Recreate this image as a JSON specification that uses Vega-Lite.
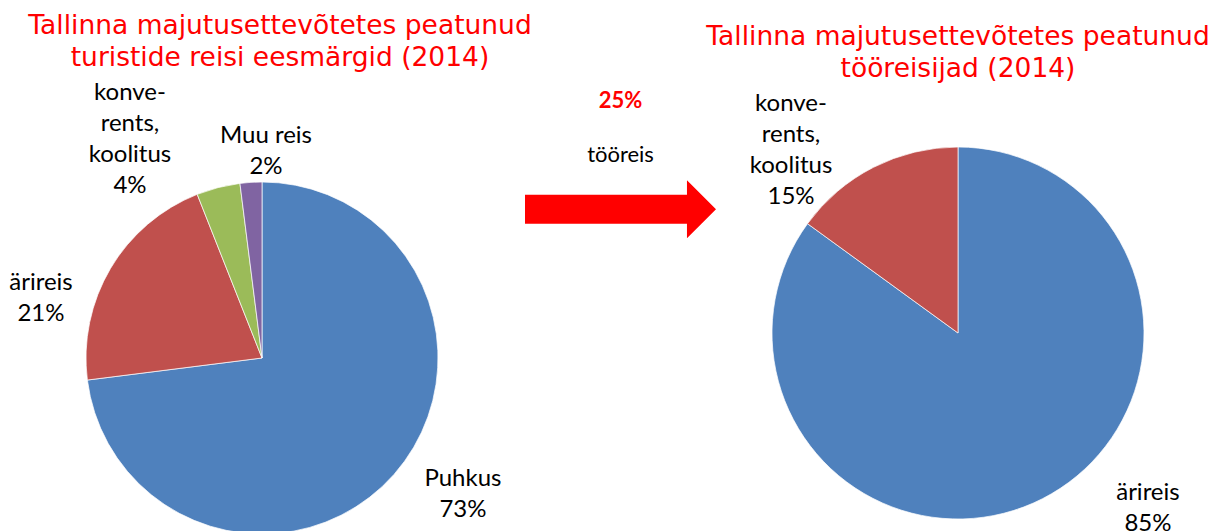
{
  "$schema": "https://vega.github.io/schema/vega-lite/v6.json",
  "padding": {"top": 12, "left": 0, "right": 0, "bottom": 0},
  "spacing": 0,
  "bounds": "flush",
  "background": "#ffffff",
  "resolve": {"scale": {"color": "independent", "theta": "independent", "y": "independent"}},
  "config": {
    "view": {"stroke": null},
    "title": {"font": "DejaVu Sans", "fontSize": 26.5, "fontWeight": "normal", "color": "#FF0000", "lineHeight": 32, "anchor": "middle", "frame": "group", "offset": -4},
    "text": {"font": "Lato", "fontSize": 24, "lineHeight": 31, "align": "center", "baseline": "middle", "color": "#000000", "lineBreak": "\n"}
  },
  "hconcat": [
    {
      "width": 524,
      "height": 582,
      "title": {"text": ["Tallinna majutusettevõtetes peatunud", "turistide reisi eesmärgid (2014)"], "dx": 18},
      "data": {"values": [
        {"cat": "Puhkus", "share": 73, "label": "Puhkus\n73%"},
        {"cat": "ärireis", "share": 21, "label": "ärireis\n21%"},
        {"cat": "konverents, koolitus", "share": 4, "label": "konve-\nrents,\nkoolitus\n4%"},
        {"cat": "Muu reis", "share": 2, "label": "Muu reis\n2%"}
      ]},
      "layer": [
        {"mark": {"type": "arc", "outerRadius": 176, "stroke": "#ffffff", "strokeWidth": 0.7},
         "encoding": {
           "theta": {"field": "share", "type": "quantitative", "stack": true},
           "order": {"field": "share", "type": "quantitative", "sort": "descending"},
           "color": {"field": "cat", "type": "nominal", "legend": null,
             "scale": {"domain": ["Puhkus", "ärireis", "konverents, koolitus", "Muu reis"], "range": ["#4F81BD", "#C0504D", "#9BBB59", "#8064A2"]}}}},
        {"transform": [{"stack": "share", "groupby": [], "sort": [{"field": "share", "order": "descending"}], "as": ["v0", "v1"]}, {"filter": "datum.cat === 'Puhkus'"}],
         "mark": {"type": "text", "radius": 234.6, "thetaOffset": 2.113},
         "encoding": {"theta": {"field": "v0", "type": "quantitative", "stack": null}, "text": {"field": "label", "type": "nominal"}}},
        {"transform": [{"stack": "share", "groupby": [], "sort": [{"field": "share", "order": "descending"}], "as": ["v0", "v1"]}, {"filter": "datum.cat === 'ärireis'"}],
         "mark": {"type": "text", "radius": 233.4, "thetaOffset": 0.4528},
         "encoding": {"theta": {"field": "v0", "type": "quantitative", "stack": null}, "text": {"field": "label", "type": "nominal"}}},
        {"transform": [{"stack": "share", "groupby": [], "sort": [{"field": "share", "order": "descending"}], "as": ["v0", "v1"]}, {"filter": "datum.cat === 'konverents, koolitus'"}],
         "mark": {"type": "text", "radius": 296.1, "thetaOffset": -0.0852},
         "encoding": {"theta": {"field": "v0", "type": "quantitative", "stack": null}, "text": {"field": "label", "type": "nominal"}}},
        {"transform": [{"stack": "share", "groupby": [], "sort": [{"field": "share", "order": "descending"}], "as": ["v0", "v1"]}, {"filter": "datum.cat === 'Muu reis'"}],
         "mark": {"type": "text", "radius": 222, "thetaOffset": 0.1435},
         "encoding": {"theta": {"field": "v0", "type": "quantitative", "stack": null}, "text": {"field": "label", "type": "nominal"}}}
      ]
    },
    {
      "width": 193,
      "height": 176,
      "data": {"values": [
        {"item": "25%"},
        {"item": "tööreis"},
        {"item": "arrow"}
      ]},
      "encoding": {
        "y": {"field": "item", "type": "nominal", "sort": null, "axis": null, "scale": {"type": "point", "padding": 0.62}}
      },
      "layer": [
        {"transform": [{"filter": "datum.item === '25%'"}],
         "mark": {"type": "text", "font": "Lato", "fontWeight": "bold", "fontSize": 22, "color": "#FF0000"},
         "encoding": {"text": {"field": "item", "type": "nominal"}}},
        {"transform": [{"filter": "datum.item === 'tööreis'"}],
         "mark": {"type": "text", "font": "Lato", "fontSize": 22, "color": "#000000"},
         "encoding": {"text": {"field": "item", "type": "nominal"}}},
        {"transform": [{"filter": "datum.item === 'arrow'"}],
         "mark": {"type": "point", "filled": true, "color": "#FF0000", "opacity": 1, "strokeWidth": 0, "size": 36481,
           "shape": "M-1,-0.152 L0.696,-0.152 L0.696,-0.304 L1,0 L0.696,0.304 L0.696,0.152 L-1,0.152 Z"}}
      ]
    },
    {
      "width": 482,
      "height": 532,
      "title": {"text": ["Tallinna majutusettevõtetes peatunud", "tööreisijad (2014)"], "offset": -15},
      "data": {"values": [
        {"cat": "ärireis", "share": 85, "label": "ärireis\n85%"},
        {"cat": "konverents, koolitus", "share": 15, "label": "konve-\nrents,\nkoolitus\n15%"}
      ]},
      "layer": [
        {"mark": {"type": "arc", "outerRadius": 186, "stroke": "#ffffff", "strokeWidth": 0.7},
         "encoding": {
           "theta": {"field": "share", "type": "quantitative", "stack": true},
           "order": {"field": "share", "type": "quantitative", "sort": "descending"},
           "color": {"field": "cat", "type": "nominal", "legend": null,
             "scale": {"domain": ["ärireis", "konverents, koolitus"], "range": ["#4F81BD", "#C0504D"]}}}},
        {"transform": [{"stack": "share", "groupby": [], "sort": [{"field": "share", "order": "descending"}], "as": ["v0", "v1"]}, {"filter": "datum.cat === 'ärireis'"}],
         "mark": {"type": "text", "radius": 248.4, "thetaOffset": 2.271},
         "encoding": {"theta": {"field": "v0", "type": "quantitative", "stack": null}, "text": {"field": "label", "type": "nominal"}}},
        {"transform": [{"stack": "share", "groupby": [], "sort": [{"field": "share", "order": "descending"}], "as": ["v0", "v1"]}, {"filter": "datum.cat === 'konverents, koolitus'"}],
         "mark": {"type": "text", "radius": 283.4, "thetaOffset": 0.3124},
         "encoding": {"theta": {"field": "v0", "type": "quantitative", "stack": null}, "text": {"field": "label", "type": "nominal"}}}
      ]
    }
  ]
}
